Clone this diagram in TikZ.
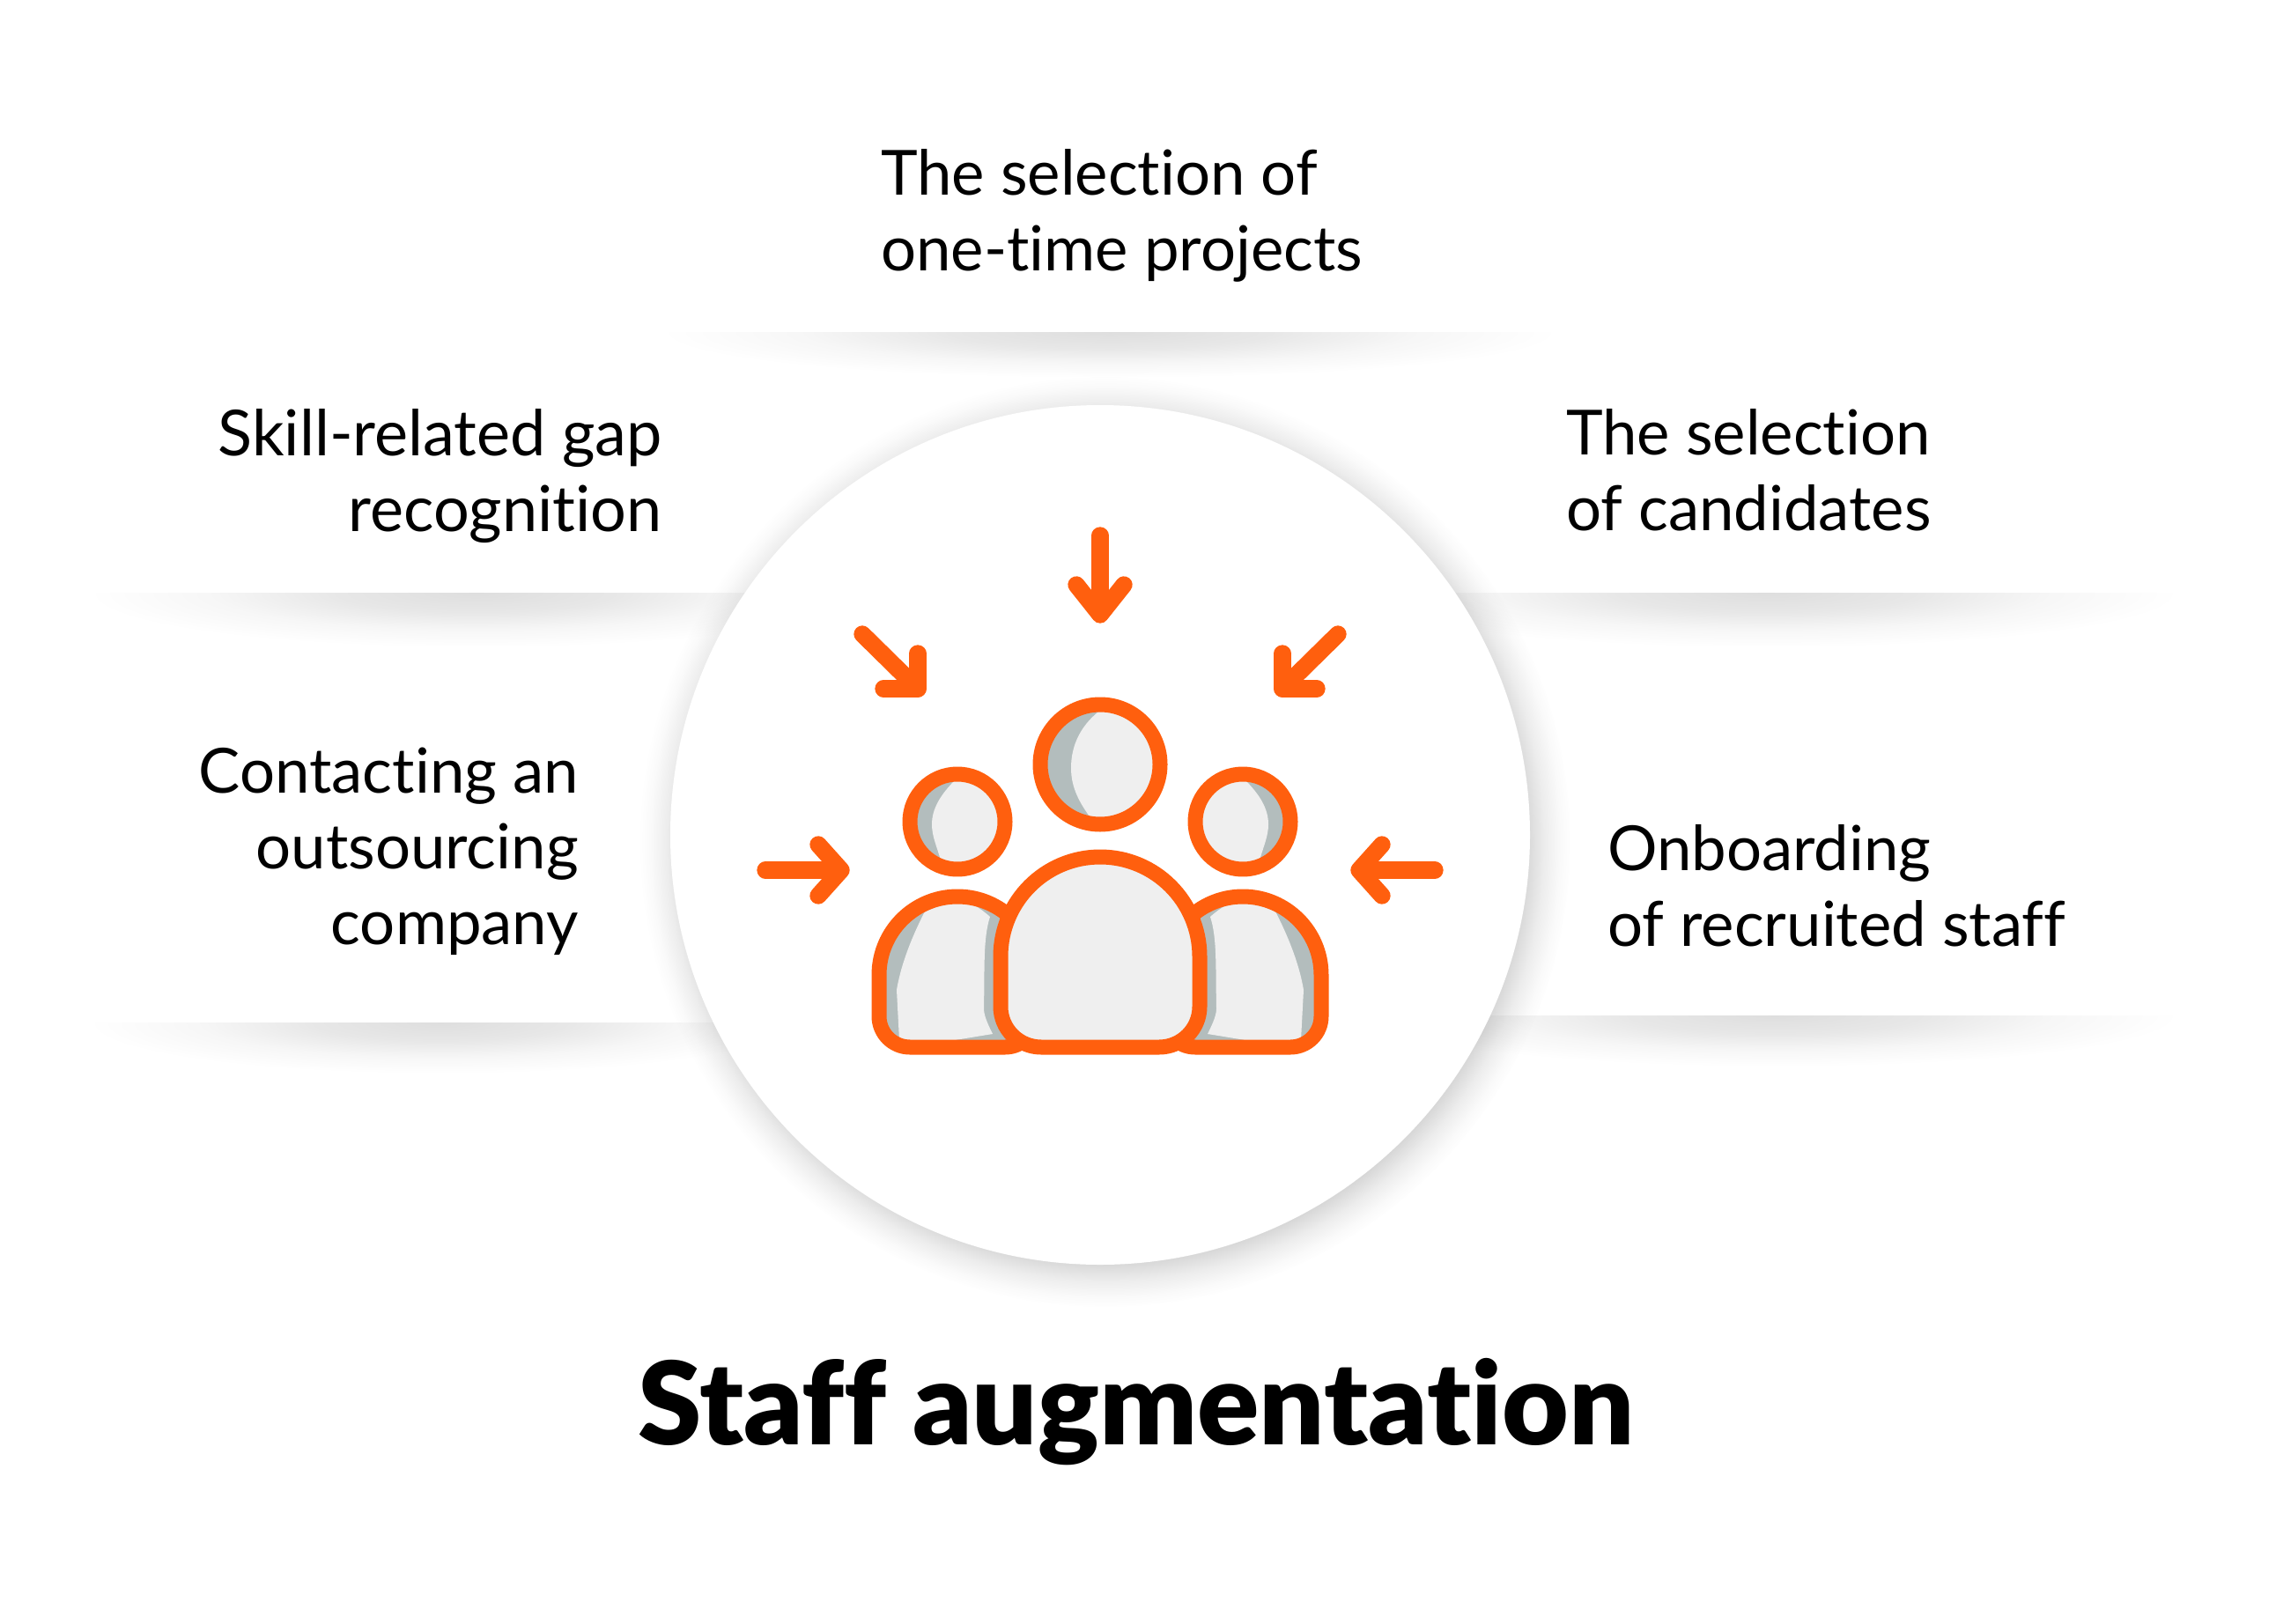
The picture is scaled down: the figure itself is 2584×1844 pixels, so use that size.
\documentclass[tikz,border=0pt]{standalone}
\usepackage{fontspec}
\usetikzlibrary{fadings}
\setmainfont{Lato}[Ligatures=NoCommon]
\newfontfamily\titlefont{Lato Black}[Ligatures=NoCommon]

\definecolor{iconorange}{RGB}{255,95,14}
\definecolor{iconlight}{RGB}{239,239,239}
\definecolor{iconshade}{RGB}{179,189,189}
\definecolor{bandgray}{RGB}{222,222,222}

\pgfdeclareradialshading{bandfade}{\pgfpoint{0bp}{0bp}}{color(0bp)=(bandgray); color(9bp)=(bandgray!72!white); color(17bp)=(bandgray!26!white); color(25bp)=(white); color(50bp)=(white)}
\pgfdeclareradialshading{discmask}{\pgfpoint{0bp}{0bp}}{color(0bp)=(white); color(22.5bp)=(white); color(23.5bp)=(white!45!black); color(24.4bp)=(white!12!black); color(25bp)=(black); color(50bp)=(black)}
\pgfdeclarefading{discfade}{\pgfuseshading{discmask}}

\tikzset{
  label text/.style={inner sep=0.75pt,font=\fontsize{53}{64.5}\selectfont},
  icon line/.style={draw=iconorange,line width=12.75pt,line join=round},
  icon arrow/.style={draw=iconorange,line width=14.5pt,line cap=round,line join=round},
}

\begin{document}
\begin{tikzpicture}[x=0.75pt,y=0.75pt,yscale=-1,xscale=1]
\useasboundingbox (0,0) rectangle (2584,1844);

%Shadow bands
\begin{scope}
\clip (700,377) rectangle (1800,470);
\path [shading=bandfade] (1260,377) ellipse (510 and 52);
\end{scope}
\begin{scope}
\clip (60,673) rectangle (1000,770);
\path [shading=bandfade] (540,673) ellipse (440 and 62);
\end{scope}
\begin{scope}
\clip (1500,673) rectangle (2520,770);
\path [shading=bandfade] (2005,673) ellipse (470 and 62);
\end{scope}
\begin{scope}
\clip (60,1161) rectangle (1000,1260);
\path [shading=bandfade] (500,1161) ellipse (400 and 58);
\end{scope}
\begin{scope}
\clip (1500,1153) rectangle (2520,1250);
\path [shading=bandfade] (2015,1153) ellipse (460 and 58);
\end{scope}

%Shape: Circle
\fill [black,opacity=0.16,path fading=discfade] (1255,956) circle (528);
\fill [white] (1249,948) circle (488);

%Arrows
\draw [icon arrow] (1249,608) -- (1249,692);
\draw [icon arrow] (1222,664) -- (1249,698) -- (1276,664);
\draw [icon arrow] (979,720) -- (1042,782);
\draw [icon arrow] (1042,742) -- (1042,782) -- (1003,782);
\draw [icon arrow] (1519,720) -- (1456,782);
\draw [icon arrow] (1456,742) -- (1456,782) -- (1495,782);
\draw [icon arrow] (869,988) -- (952,988);
\draw [icon arrow] (929,959) -- (955,988) -- (929,1017);
\draw [icon arrow] (1629,988) -- (1546,988);
\draw [icon arrow] (1569,959) -- (1543,988) -- (1569,1017);

%Shape: Circle
\begin{scope}
\clip (1249,868) circle (68);
\fill [iconshade] (1160,790) rectangle (1340,950);
\fill [iconlight] (1251,805) .. controls (1228,822) and (1216,845) .. (1216,872) .. controls (1216,895) and (1226,912) .. (1239,930) -- (1330,950) -- (1330,790) -- cycle;
\end{scope}
\draw [icon line] (1249,868) circle (68);

%Shape: Circle
\begin{scope}
\clip (1087,933) circle (54);
\fill [iconshade] (1020,870) rectangle (1150,1000);
\fill [iconlight] (1085,885) .. controls (1068,902) and (1058,918) .. (1058,936) .. controls (1058,950) and (1064,962) .. (1068,977) -- (1150,1000) -- (1150,870) -- cycle;
\end{scope}
\draw [icon line] (1087,933) circle (54);

%Shape: Circle
\begin{scope}
\clip (1411,933) circle (54);
\fill [iconshade] (1348,870) rectangle (1478,1000);
\fill [iconlight] (1413,885) .. controls (1430,902) and (1440,918) .. (1440,936) .. controls (1440,950) and (1434,962) .. (1430,977) -- (1348,1000) -- (1348,870) -- cycle;
\end{scope}
\draw [icon line] (1411,933) circle (54);

%Left body
\begin{scope}
\clip (998,1107) arc [start angle=180,end angle=360,radius=89] -- (1176,1154) arc [start angle=0,end angle=90,radius=35] -- (1033,1189) arc [start angle=90,end angle=180,radius=35] -- cycle;
\fill [iconshade] (980,1000) rectangle (1190,1200);
\fill [iconlight] (1050,1035) .. controls (1032,1070) and (1022,1100) .. (1018,1124) -- (1021,1181) -- (1084,1181) -- (1127,1174) .. controls (1120,1160) and (1117,1152) .. (1117,1145) .. controls (1118,1100) and (1116,1065) .. (1124,1041) .. controls (1112,1030) and (1100,1024) .. (1088,1020) -- cycle;
\end{scope}
\draw [icon line] (998,1107) arc [start angle=180,end angle=360,radius=89] -- (1176,1154) arc [start angle=0,end angle=90,radius=35] -- (1033,1189) arc [start angle=90,end angle=180,radius=35] -- cycle;

%Right body
\begin{scope}
\clip (1322,1107) arc [start angle=180,end angle=360,radius=89] -- (1500,1154) arc [start angle=0,end angle=90,radius=35] -- (1357,1189) arc [start angle=90,end angle=180,radius=35] -- cycle;
\fill [iconshade] (1310,1000) rectangle (1520,1200);
\fill [iconlight] (1448,1035) .. controls (1466,1070) and (1476,1100) .. (1480,1124) -- (1477,1181) -- (1414,1181) -- (1371,1174) .. controls (1378,1160) and (1381,1152) .. (1381,1145) .. controls (1380,1100) and (1382,1065) .. (1374,1041) .. controls (1386,1030) and (1398,1024) .. (1410,1020) -- cycle;
\end{scope}
\draw [icon line] (1322,1107) arc [start angle=180,end angle=360,radius=89] -- (1500,1154) arc [start angle=0,end angle=90,radius=35] -- (1357,1189) arc [start angle=90,end angle=180,radius=35] -- cycle;

%Center body
\draw [icon line,fill=iconlight] (1136,1086) arc [start angle=180,end angle=360,radius=113] -- (1362,1143) arc [start angle=0,end angle=90,radius=46] -- (1182,1189) arc [start angle=90,end angle=180,radius=46] -- cycle;

% Text Node
\node (projects) [label text,anchor=north west,align=left] at (999,168) {The selection of\\one-time projects};
% Text Node
\node (gap) [label text,anchor=north east,align=right,font=\fontsize{54}{64.5}\selectfont] at (753,463) {Skill-related gap\\recognition};
% Text Node
\node (candidates) [label text,anchor=north west,align=left] at (1777,463) {The selection\\of candidates};
% Text Node
\node (contact) [label text,anchor=north east,align=right] at (658,848) {Contacting an\\outsourcing\\company};
% Text Node
\node (onboarding) [label text,anchor=north west,align=left] at (1824,935) {Onboarding\\of recruited staff};
% Text Node
\node (title) [inner sep=0.75pt,anchor=base] at (1290,1640) {\titlefont\fontsize{98}{118}\selectfont Staff augmentation};
\end{tikzpicture}
\end{document}
